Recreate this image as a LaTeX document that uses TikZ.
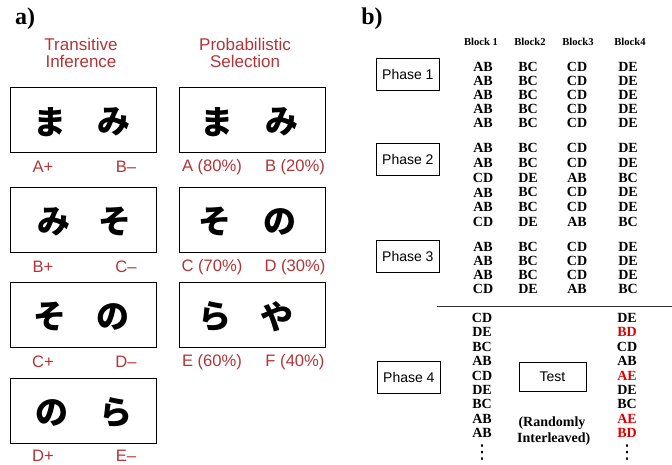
\documentclass[tikz,border=0pt]{standalone}
\usepackage{fontspec}
\setmainfont{Liberation Serif}
\setsansfont{Liberation Sans}
\newfontfamily\jpfont{Noto Sans CJK JP}
\newfontfamily\dvfont{DejaVu Sans}
\definecolor{labred}{RGB}{178,52,56}
\definecolor{hotred}{RGB}{225,0,0}
\begin{document}
\begin{tikzpicture}[x=1pt,y=-1pt,
  panel/.style={font=\bfseries\fontsize{24}{24}\selectfont, inner sep=0},
  head/.style={text=labred, font=\sffamily\fontsize{17}{17}\selectfont, align=center, inner sep=0},
  lbl/.style={text=labred, font=\sffamily\fontsize{16.6}{16.6}\selectfont, inner sep=0},
  kbox/.style={draw, line width=0.9pt, minimum width=146pt, minimum height=65pt, anchor=north west, inner sep=0},
  kana/.style={font=\jpfont\bfseries\fontsize{33}{33}\selectfont, inner sep=0},
  phase/.style={draw, line width=0.7pt, minimum width=63pt, minimum height=32pt, anchor=north west, inner sep=0, font=\sffamily\fontsize{14}{14}\selectfont},
  bhead/.style={font=\bfseries\fontsize{10.6}{10.6}\selectfont, inner sep=0},
  pair/.style={font=\bfseries\fontsize{14}{14}\selectfont, inner sep=0},
  hot/.style={pair, text=hotred},
  vdot/.style={font=\dvfont\fontsize{19}{19}\selectfont, inner sep=0}]
\useasboundingbox (0,0) rectangle (672,464);

% ---------- panel a ----------
\node[panel] (la) at (25,19) {a)};
\node[head] (h1) at (81,53) {Transitive\\Inference};
\node[head] (h2) at (245,53) {Probabilistic\\Selection};

% left column boxes
\node[kbox] (k1) at (10,87) {};
\node[kbox] (k2) at (10,187) {};
\node[kbox] (k3) at (10,282) {};
\node[kbox] (k4) at (10,378) {};
% right column boxes
\node[kbox] (r1) at (179,87) {};
\node[kbox] (r2) at (179,187) {};
\node[kbox] (r3) at (179,282) {};

% kana
\node[kana] (k1a) at ([xshift=40pt,yshift=-2pt]k1.west) {ま};
\node[kana] (k1b) at ([xshift=104pt,yshift=-2pt]k1.west) {み};
\node[kana] (k2a) at ([xshift=44pt,yshift=-2pt]k2.west) {み};
\node[kana] (k2b) at ([xshift=105pt,yshift=-2pt]k2.west) {そ};
\node[kana] (k3a) at ([xshift=40pt,yshift=-2pt]k3.west) {そ};
\node[kana] (k3b) at ([xshift=103pt,yshift=-2pt]k3.west) {の};
\node[kana] (k4a) at ([xshift=42pt,yshift=-2pt]k4.west) {の};
\node[kana] (k4b) at ([xshift=106pt,yshift=-2pt]k4.west) {ら};
\node[kana] (r1a) at ([xshift=38pt,yshift=-2pt]r1.west) {ま};
\node[kana] (r1b) at ([xshift=103pt,yshift=-2pt]r1.west) {み};
\node[kana] (r2a) at ([xshift=36pt,yshift=-2pt]r2.west) {そ};
\node[kana] (r2b) at ([xshift=101pt,yshift=-2pt]r2.west) {の};
\node[kana] (r3a) at ([xshift=36pt,yshift=-2pt]r3.west) {ら};
\node[kana] (r3b) at ([xshift=98pt,yshift=-2pt]r3.west) {や};

% labels
\node[lbl] (l1a) at ([xshift=33pt,yshift=-14pt]k1.south west) {A+};
\node[lbl] (l1b) at ([xshift=116pt,yshift=-14pt]k1.south west) {B–};
\node[lbl] (l2a) at ([xshift=33pt,yshift=-14pt]k2.south west) {B+};
\node[lbl] (l2b) at ([xshift=116pt,yshift=-14pt]k2.south west) {C–};
\node[lbl] (l3a) at ([xshift=33pt,yshift=-14pt]k3.south west) {C+};
\node[lbl] (l3b) at ([xshift=116pt,yshift=-14pt]k3.south west) {D–};
\node[lbl] (l4a) at ([xshift=33pt,yshift=-12pt]k4.south west) {D+};
\node[lbl] (l4b) at ([xshift=116pt,yshift=-12pt]k4.south west) {E–};
\node[lbl] (m1a) at ([xshift=33pt,yshift=-14pt]r1.south west) {A (80\%)};
\node[lbl] (m1b) at ([xshift=116pt,yshift=-14pt]r1.south west) {B (20\%)};
\node[lbl] (m2a) at ([xshift=33pt,yshift=-14pt]r2.south west) {C (70\%)};
\node[lbl] (m2b) at ([xshift=116pt,yshift=-14pt]r2.south west) {D (30\%)};
\node[lbl] (m3a) at ([xshift=33pt,yshift=-14pt]r3.south west) {E (60\%)};
\node[lbl] (m3b) at ([xshift=116pt,yshift=-14pt]r3.south west) {F (40\%)};

% ---------- panel b ----------
\node[panel] (lb) at (372,19) {b)};
\node[bhead] (b1) at (481,42) {Block 1};
\node[bhead] (b2) at (530,42) {Block2};
\node[bhead] (b3) at (578,42) {Block3};
\node[bhead] (b4) at (630,42) {Block4};

\node[phase] (ph1) at (376,58) {Phase 1};
\node[phase] (ph2) at (376,143) {Phase 2};
\node[phase] (ph3) at (376,240) {Phase 3};
\node[phase] (ph4) at (377,361) {Phase 4};

% phase 1
\foreach \i in {0,...,4}{
  \node[pair] (pa\i) at (483,67+14*\i) {AB};
  \node[pair] (pb\i) at (528,67+14*\i) {BC};
  \node[pair] (pc\i) at (577,67+14*\i) {CD};
  \node[pair] (pd\i) at (628,67+14*\i) {DE};
}
% phase 2
\foreach \a/\b/\c/\d [count=\i from 0] in {AB/BC/CD/DE,AB/BC/CD/DE,CD/DE/AB/BC,AB/BC/CD/DE,AB/BC/CD/DE,CD/DE/AB/BC}{
  \node[pair] (qa\i) at (483,148+14.8*\i) {\a};
  \node[pair] (qb\i) at (528,148+14.8*\i) {\b};
  \node[pair] (qc\i) at (577,148+14.8*\i) {\c};
  \node[pair] (qd\i) at (628,148+14.8*\i) {\d};
}
% phase 3
\foreach \a/\b/\c/\d [count=\i from 0] in {AB/BC/CD/DE,AB/BC/CD/DE,AB/BC/CD/DE,CD/DE/AB/BC}{
  \node[pair] (sa\i) at (483,247+14*\i) {\a};
  \node[pair] (sb\i) at (528,247+14*\i) {\b};
  \node[pair] (sc\i) at (577,247+14*\i) {\c};
  \node[pair] (sd\i) at (628,247+14*\i) {\d};
}

% separator
\coordinate (sepL) at (437,306);
\coordinate (sepR) at (672,306);
\draw[line width=0.8pt, black!80] (sepL) -- (sepR);

% phase 4
\foreach \a/\s/\b [count=\i from 0] in {CD/pair/DE,DE/hot/BD,BC/pair/CD,AB/pair/AB,CD/hot/AE,DE/pair/DE,BC/pair/BC,AB/hot/AE,AB/hot/BD}{
  \node[pair] (ta\i) at (482,318+14.4*\i) {\a};
  \node[\s] (tb\i) at (627,318+14.4*\i) {\b};
}
\node[vdot] (dl) at (482,453) {⋮};
\node[vdot] (dr) at (627,453) {⋮};

\node[draw, line width=0.7pt, minimum width=67pt, minimum height=29pt, inner sep=0, font=\sffamily\fontsize{14}{14}\selectfont] (test) at (552.5,376.5) {Test};
\node[pair, align=center, font=\bfseries\fontsize{14}{16}\selectfont] (ri) at (552,431) {(Randomly\\\ Interleaved)};
\end{tikzpicture}
\end{document}
